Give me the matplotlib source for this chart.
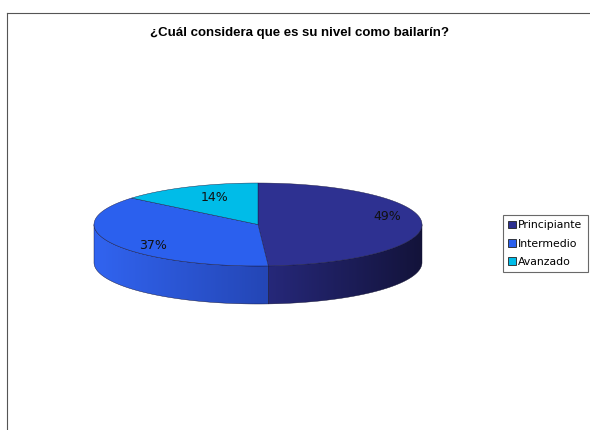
import numpy as np
import matplotlib.pyplot as plt
from matplotlib.patches import Polygon, Patch
from matplotlib.colors import LinearSegmentedColormap
from matplotlib.lines import Line2D

title = "¿Cuál considera que es su nivel como bailarín?"
labels = ["Principiante", "Intermedio", "Avanzado"]
shares = [49, 37, 14]

top_colors = ["#2e3191", "#2b60ee", "#00bce8"]
side_colors = [("#26287a", "#13133a"), ("#3164f0", "#2446b5"), ("#00a8d0", "#008fb5")]
# small nudges for the percentage labels (pixels)
label_radius = [0.79, 0.72, 0.62]
label_nudge = [(0, -7), (0, 7), (0, -4)]

# ellipse geometry of the pie top, in pixels
cx, cy, rx, ry, depth = 258, 224.5, 164, 41.5, 38

fig = plt.figure(figsize=(5.9, 4.3), dpi=100)
ax = fig.add_axes([0, 0, 1, 1])
ax.axis('off')


def arc(t0, t1, dy=0, n=120):
    t = np.radians(np.linspace(t0, t1, n))
    return np.column_stack([cx + rx * np.cos(t), cy + dy - ry * np.sin(t)])


fracs = np.array(shares) / sum(shares)
starts = 90 - 360 * np.concatenate([[0], np.cumsum(fracs)[:-1]])
ends = starts - 360 * fracs

# side walls (only the front half is visible)
for i in range(len(shares)):
    for k in (-1, 0, 1):
        lo = max(ends[i], -180 + 360 * k)
        hi = min(starts[i], 360 * k)
        if hi <= lo:
            continue
        pts = np.vstack([arc(lo, hi), arc(hi, lo, dy=depth)])
        poly = Polygon(pts, closed=True, facecolor='none', edgecolor='#101030', lw=0.3, zorder=2)
        ax.add_patch(poly)
        cmap = LinearSegmentedColormap.from_list('side%d' % i, side_colors[i])
        grad = np.linspace(0, 1, 256).reshape(1, -1)
        im = ax.imshow(grad, cmap=cmap, aspect='auto', zorder=1,
                       extent=(pts[:, 0].min(), pts[:, 0].max(), pts[:, 1].max(), pts[:, 1].min()))
        im.set_clip_path(poly)

# top faces
for i in range(len(shares)):
    pts = np.vstack([[cx, cy], arc(starts[i], ends[i])])
    ax.add_patch(Polygon(pts, closed=True, facecolor=top_colors[i], edgecolor='#1a1a40',
                         lw=0.3, zorder=3))
    mid = np.radians((starts[i] + ends[i]) / 2)
    r = label_radius[i]
    lx = cx + r * rx * np.cos(mid) + label_nudge[i][0]
    ly = cy - r * ry * np.sin(mid) + label_nudge[i][1]
    ax.text(lx, ly, '%d%%' % shares[i], ha='center', va='center', fontsize=9,
            color='#111111', zorder=4)

ax.set_xlim(0, 590)
ax.set_ylim(430, 0)

ax.text(300, 33, title, ha='center', va='center', fontsize=9.5, fontweight='bold',
        family='Liberation Sans')

# chart area frame (top and left edges)
fig.add_artist(Line2D([7 / 590, 1], [1 - 13 / 430, 1 - 13 / 430], color='#555555', lw=0.8))
fig.add_artist(Line2D([7 / 590, 7 / 590], [1 - 13 / 430, 0], color='#555555', lw=0.8))

handles = [Patch(facecolor=c, edgecolor='#222222', lw=0.6) for c in top_colors]
leg = fig.legend(handles, labels, loc='center left', bbox_to_anchor=(503 / 590, 1 - 243.5 / 430),
                 fontsize=7.8, frameon=True, fancybox=False, edgecolor='#444444',
                 handlelength=0.7, handleheight=0.7, handletextpad=0.2,
                 labelspacing=0.75, borderpad=0.5, borderaxespad=0)
leg.get_frame().set_linewidth(0.8)

fig.savefig('out.png', dpi=100)
